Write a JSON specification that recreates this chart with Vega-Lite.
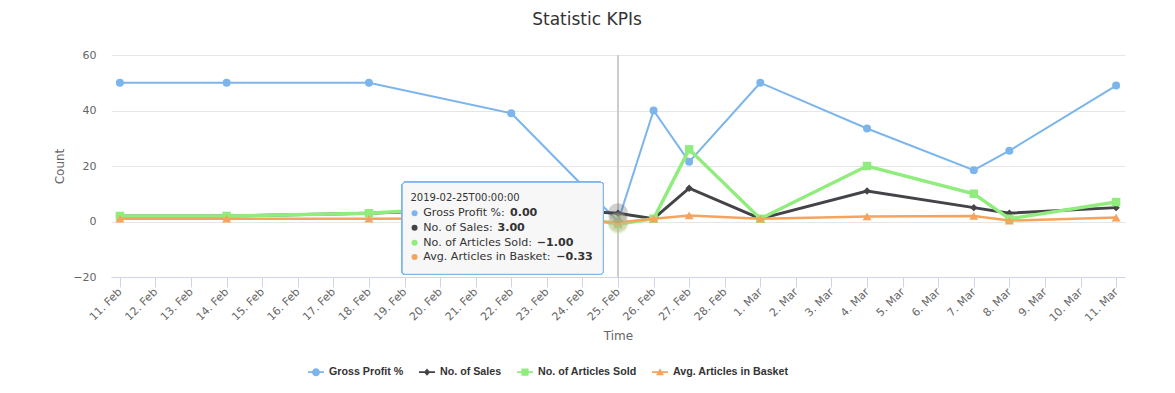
{
  "$schema": "https://vega.github.io/schema/vega-lite/v6.json",
  "autosize": {"type": "none"},
  "width": 1014,
  "height": 222,
  "padding": {"left": 111, "top": 55, "right": 50, "bottom": 116},
  "background": "#ffffff",
  "title": {
    "text": "Statistic KPIs",
    "font": "DejaVu Sans",
    "fontSize": 17,
    "fontWeight": "normal",
    "color": "#333333",
    "anchor": "middle",
    "dx": -31,
    "offset": 20
  },
  "config": {
    "view": {"stroke": null},
    "axis": {"labelFont": "DejaVu Sans", "titleFont": "DejaVu Sans"}
  },
  "data": {
    "values": [
      {"date": "2019-02-11", "series": "Gross Profit %", "value": 50},
      {"date": "2019-02-14", "series": "Gross Profit %", "value": 50},
      {"date": "2019-02-18", "series": "Gross Profit %", "value": 50},
      {"date": "2019-02-22", "series": "Gross Profit %", "value": 39},
      {"date": "2019-02-25", "series": "Gross Profit %", "value": 0},
      {"date": "2019-02-26", "series": "Gross Profit %", "value": 40},
      {"date": "2019-02-27", "series": "Gross Profit %", "value": 21.5},
      {"date": "2019-03-01", "series": "Gross Profit %", "value": 50},
      {"date": "2019-03-04", "series": "Gross Profit %", "value": 33.5},
      {"date": "2019-03-07", "series": "Gross Profit %", "value": 18.5},
      {"date": "2019-03-08", "series": "Gross Profit %", "value": 25.5},
      {"date": "2019-03-11", "series": "Gross Profit %", "value": 49},
      {"date": "2019-02-11", "series": "No. of Sales", "value": 2},
      {"date": "2019-02-14", "series": "No. of Sales", "value": 2},
      {"date": "2019-02-18", "series": "No. of Sales", "value": 3},
      {"date": "2019-02-22", "series": "No. of Sales", "value": 5},
      {"date": "2019-02-25", "series": "No. of Sales", "value": 3},
      {"date": "2019-02-26", "series": "No. of Sales", "value": 1},
      {"date": "2019-02-27", "series": "No. of Sales", "value": 12},
      {"date": "2019-03-01", "series": "No. of Sales", "value": 1},
      {"date": "2019-03-04", "series": "No. of Sales", "value": 11},
      {"date": "2019-03-07", "series": "No. of Sales", "value": 5},
      {"date": "2019-03-08", "series": "No. of Sales", "value": 3},
      {"date": "2019-03-11", "series": "No. of Sales", "value": 5},
      {"date": "2019-02-11", "series": "No. of Articles Sold", "value": 2},
      {"date": "2019-02-14", "series": "No. of Articles Sold", "value": 2},
      {"date": "2019-02-18", "series": "No. of Articles Sold", "value": 3},
      {"date": "2019-02-22", "series": "No. of Articles Sold", "value": 6},
      {"date": "2019-02-25", "series": "No. of Articles Sold", "value": -1},
      {"date": "2019-02-26", "series": "No. of Articles Sold", "value": 1},
      {"date": "2019-02-27", "series": "No. of Articles Sold", "value": 26},
      {"date": "2019-03-01", "series": "No. of Articles Sold", "value": 1},
      {"date": "2019-03-04", "series": "No. of Articles Sold", "value": 20},
      {"date": "2019-03-07", "series": "No. of Articles Sold", "value": 10},
      {"date": "2019-03-08", "series": "No. of Articles Sold", "value": 1},
      {"date": "2019-03-11", "series": "No. of Articles Sold", "value": 7},
      {"date": "2019-02-11", "series": "Avg. Articles in Basket", "value": 1},
      {"date": "2019-02-14", "series": "Avg. Articles in Basket", "value": 1},
      {"date": "2019-02-18", "series": "Avg. Articles in Basket", "value": 1},
      {"date": "2019-02-22", "series": "Avg. Articles in Basket", "value": 1.2},
      {"date": "2019-02-25", "series": "Avg. Articles in Basket", "value": -0.33},
      {"date": "2019-02-26", "series": "Avg. Articles in Basket", "value": 1},
      {"date": "2019-02-27", "series": "Avg. Articles in Basket", "value": 2.17},
      {"date": "2019-03-01", "series": "Avg. Articles in Basket", "value": 1},
      {"date": "2019-03-04", "series": "Avg. Articles in Basket", "value": 1.82},
      {"date": "2019-03-07", "series": "Avg. Articles in Basket", "value": 2},
      {"date": "2019-03-08", "series": "Avg. Articles in Basket", "value": 0.33},
      {"date": "2019-03-11", "series": "Avg. Articles in Basket", "value": 1.4}
    ]
  },
  "encoding": {
    "x": {
      "field": "date",
      "type": "temporal",
      "title": "Time",
      "scale": {
        "type": "utc",
        "domain": [
          {"year": 2019, "month": 2, "date": 10, "hours": 18, "utc": true},
          {"year": 2019, "month": 3, "date": 11, "hours": 6, "utc": true}
        ]
      },
      "axis": {
        "tickCount": {"interval": "day", "step": 1},
        "format": "%-d. %b",
        "labelAngle": -45,
        "labelAlign": "right",
        "labelBaseline": "middle",
        "labelFontSize": 11,
        "labelColor": "#666666",
        "labelPadding": 3,
        "labelOverlap": false,
        "labelFlush": false,
        "domainColor": "#ccd6eb",
        "tickColor": "#ccd6eb",
        "tickSize": 10,
        "grid": false,
        "titleFontSize": 12,
        "titleFontWeight": "normal",
        "titleColor": "#666666",
        "titlePadding": 7
      }
    },
    "y": {
      "field": "value",
      "type": "quantitative",
      "title": "Count",
      "scale": {"domain": [-20, 60], "nice": false, "zero": false},
      "axis": {
        "values": [-20, 0, 20, 40, 60],
        "domain": false,
        "ticks": false,
        "labelPadding": 15,
        "labelFontSize": 11,
        "labelColor": "#666666",
        "gridColor": "#e6e6e6",
        "titleFontSize": 12,
        "titleFontWeight": "normal",
        "titleColor": "#666666",
        "titlePadding": 6
      }
    },
    "color": {
      "field": "series",
      "type": "nominal",
      "scale": {
        "domain": ["Gross Profit %", "No. of Sales", "No. of Articles Sold", "Avg. Articles in Basket"],
        "range": ["#7cb5ec", "#434348", "#90ed7d", "#f7a35c"]
      },
      "legend": {
        "title": null,
        "orient": "none",
        "direction": "horizontal",
        "legendX": 197,
        "legendY": 309,
        "padding": 0,
        "columnPadding": 15,
        "labelFont": "Liberation Sans",
        "labelFontSize": 10.7,
        "labelFontWeight": "bold",
        "labelColor": "#333333",
        "labelOffset": 5,
        "symbolSize": 256,
        "encode": {
          "symbols": {
            "update": {
              "shape": {"signal": "datum.value === 'Gross Profit %' ? 'M-1,-0.12H1V0.12H-1Z M0.5,0A0.5,0.5,0,1,1,-0.5,0A0.5,0.5,0,1,1,0.5,0Z' : datum.value === 'No. of Sales' ? 'M-1,-0.12H1V0.12H-1Z M0,-0.45L0.4,0L0,0.45L-0.4,0Z' : datum.value === 'No. of Articles Sold' ? 'M-1,-0.12H1V0.12H-1Z M-0.45,-0.45H0.45V0.45H-0.45Z' : 'M-1,-0.12H1V0.12H-1Z M0,-0.5L0.5,0.4H-0.5Z'"},
              "size": {"value": 256},
              "fill": {"scale": "color", "field": "value"},
              "fillOpacity": {"value": 1},
              "strokeWidth": {"value": 0}
            }
          }
        }
      }
    }
  },
  "layer": [
    {
      "mark": {"type": "rule", "color": "#cccccc", "strokeWidth": 1},
      "encoding": {
        "x": {"datum": {"year": 2019, "month": 2, "date": 25, "utc": true}, "type": "temporal"},
        "y": null,
        "color": null
      }
    },
    {
      "transform": [{"filter": "datum.series === 'Gross Profit %'"}],
      "layer": [
        {"mark": {"type": "line", "strokeWidth": 2}, "encoding": {}},
        {"mark": {"type": "point", "filled": true, "opacity": 1, "shape": "circle", "size": 64}}
      ]
    },
    {
      "transform": [{"filter": "datum.series === 'No. of Sales'"}],
      "layer": [
        {"mark": {"type": "line", "strokeWidth": 3}, "encoding": {}},
        {"mark": {"type": "point", "filled": true, "opacity": 1, "shape": "diamond", "size": 56}}
      ]
    },
    {
      "transform": [{"filter": "datum.series === 'No. of Articles Sold'"}],
      "layer": [
        {"mark": {"type": "line", "strokeWidth": 3.5}, "encoding": {}},
        {"mark": {"type": "point", "filled": true, "opacity": 1, "shape": "square", "size": 72}}
      ]
    },
    {
      "transform": [{"filter": "datum.series === 'Avg. Articles in Basket'"}],
      "layer": [
        {"mark": {"type": "line", "strokeWidth": 2.5}, "encoding": {}},
        {"mark": {"type": "point", "filled": true, "opacity": 1, "shape": "triangle-up", "size": 80}}
      ]
    },
    {
      "transform": [{"filter": "utcdate(datum.date) == 25 && utcmonth(datum.date) == 1"}],
      "mark": {"type": "point", "filled": true, "opacity": 0.25, "size": 400, "shape": "circle"}
    },
    {
      "mark": {"type": "rect", "fill": "#f7f7f7", "fillOpacity": 0.85, "stroke": "#7cb5ec", "strokeWidth": 1, "cornerRadius": 3},
      "encoding": {
        "x": {"datum": {"year": 2019, "month": 2, "date": 18, "hours": 22, "minutes": 26, "utc": true}, "type": "temporal"},
        "x2": {"datum": {"year": 2019, "month": 2, "date": 24, "hours": 14, "minutes": 4, "utc": true}},
        "y": {"datum": 14.13, "type": "quantitative"},
        "y2": {"datum": -19.03},
        "color": null
      }
    },
    {
      "transform": [{"filter": "datum.series === 'Gross Profit %' && utcdate(datum.date) == 25 && utcmonth(datum.date) == 1"}],
      "mark": {"type": "text", "align": "left", "baseline": "middle", "font": "DejaVu Sans", "fontSize": 10, "color": "#333333", "dx": 8.3},
      "encoding": {
        "x": {"datum": {"year": 2019, "month": 2, "date": 18, "hours": 22, "minutes": 26, "utc": true}, "type": "temporal"},
        "y": {"datum": 8.36, "type": "quantitative"},
        "text": {"field": "date", "type": "temporal", "timeUnit": "utcyearmonthdatehoursminutesseconds", "format": "%Y-%m-%dT%H:%M:%S"},
        "color": null
      }
    },
    {
      "transform": [
        {"filter": "datum.series === 'Gross Profit %' && utcdate(datum.date) == 25 && utcmonth(datum.date) == 1"},
        {"calculate": "datum.series + ':'", "as": "tip"}
      ],
      "encoding": {
        "x": {"datum": {"year": 2019, "month": 2, "date": 19, "hours": 6, "minutes": 46, "utc": true}, "type": "temporal"},
        "y": {"datum": 2.95, "type": "quantitative"}
      },
      "layer": [
        {"mark": {"type": "point", "filled": true, "opacity": 1, "shape": "circle", "size": 36}},
        {"mark": {"type": "text", "align": "left", "baseline": "middle", "font": "DejaVu Sans", "fontSize": 11.1, "color": "#333333", "dx": 8.7}, "encoding": {"text": {"field": "tip", "type": "nominal"}, "color": null}},
        {"mark": {"type": "text", "align": "left", "baseline": "middle", "font": "DejaVu Sans", "fontSize": 11.1, "fontWeight": "bold", "color": "#333333", "dx": 95.4}, "encoding": {"text": {"field": "value", "type": "quantitative", "format": ".2f"}, "color": null}}
      ]
    },
    {
      "transform": [
        {"filter": "datum.series === 'No. of Sales' && utcdate(datum.date) == 25 && utcmonth(datum.date) == 1"},
        {"calculate": "datum.series + ':'", "as": "tip"}
      ],
      "encoding": {
        "x": {"datum": {"year": 2019, "month": 2, "date": 19, "hours": 6, "minutes": 46, "utc": true}, "type": "temporal"},
        "y": {"datum": -2.23, "type": "quantitative"}
      },
      "layer": [
        {"mark": {"type": "point", "filled": true, "opacity": 1, "shape": "circle", "size": 36}},
        {"mark": {"type": "text", "align": "left", "baseline": "middle", "font": "DejaVu Sans", "fontSize": 11.1, "color": "#333333", "dx": 8.7}, "encoding": {"text": {"field": "tip", "type": "nominal"}, "color": null}},
        {"mark": {"type": "text", "align": "left", "baseline": "middle", "font": "DejaVu Sans", "fontSize": 11.1, "fontWeight": "bold", "color": "#333333", "dx": 82.9}, "encoding": {"text": {"field": "value", "type": "quantitative", "format": ".2f"}, "color": null}}
      ]
    },
    {
      "transform": [
        {"filter": "datum.series === 'No. of Articles Sold' && utcdate(datum.date) == 25 && utcmonth(datum.date) == 1"},
        {"calculate": "datum.series + ':'", "as": "tip"}
      ],
      "encoding": {
        "x": {"datum": {"year": 2019, "month": 2, "date": 19, "hours": 6, "minutes": 46, "utc": true}, "type": "temporal"},
        "y": {"datum": -7.64, "type": "quantitative"}
      },
      "layer": [
        {"mark": {"type": "point", "filled": true, "opacity": 1, "shape": "circle", "size": 36}},
        {"mark": {"type": "text", "align": "left", "baseline": "middle", "font": "DejaVu Sans", "fontSize": 11.1, "color": "#333333", "dx": 8.7}, "encoding": {"text": {"field": "tip", "type": "nominal"}, "color": null}},
        {"mark": {"type": "text", "align": "left", "baseline": "middle", "font": "DejaVu Sans", "fontSize": 11.1, "fontWeight": "bold", "color": "#333333", "dx": 122.2}, "encoding": {"text": {"field": "value", "type": "quantitative", "format": ".2f"}, "color": null}}
      ]
    },
    {
      "transform": [
        {"filter": "datum.series === 'Avg. Articles in Basket' && utcdate(datum.date) == 25 && utcmonth(datum.date) == 1"},
        {"calculate": "datum.series + ':'", "as": "tip"}
      ],
      "encoding": {
        "x": {"datum": {"year": 2019, "month": 2, "date": 19, "hours": 6, "minutes": 46, "utc": true}, "type": "temporal"},
        "y": {"datum": -12.79, "type": "quantitative"}
      },
      "layer": [
        {"mark": {"type": "point", "filled": true, "opacity": 1, "shape": "circle", "size": 36}},
        {"mark": {"type": "text", "align": "left", "baseline": "middle", "font": "DejaVu Sans", "fontSize": 11.1, "color": "#333333", "dx": 8.7}, "encoding": {"text": {"field": "tip", "type": "nominal"}, "color": null}},
        {"mark": {"type": "text", "align": "left", "baseline": "middle", "font": "DejaVu Sans", "fontSize": 11.1, "fontWeight": "bold", "color": "#333333", "dx": 141.6}, "encoding": {"text": {"field": "value", "type": "quantitative", "format": ".2f"}, "color": null}}
      ]
    }
  ]
}
